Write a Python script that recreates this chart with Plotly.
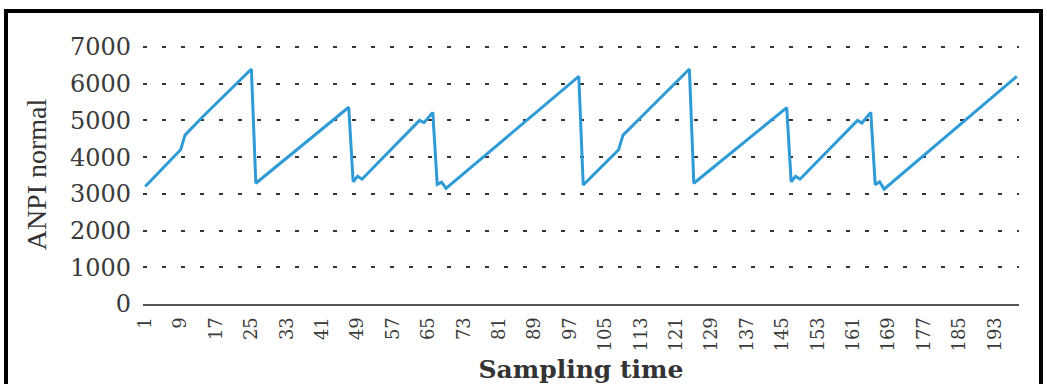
import plotly.graph_objects as go

# Turning points of the ANPI-normal trace (straight segments in between)
sampling_time = [1, 9, 10, 14, 25, 26, 47, 48, 49, 50, 63, 64, 66, 67, 68, 69, 99,
                 100, 108, 109, 113, 124, 125, 146, 147, 148, 149, 162, 163, 165,
                 166, 167, 168, 198]
anpi_normal = [3200, 4200, 4600, 5100, 6400, 3290, 5360, 3330, 3480, 3400, 5000,
               4940, 5220, 3260, 3320, 3150, 6200,
               3240, 4200, 4600, 5080, 6400, 3290, 5350, 3330, 3480, 3400, 5000,
               4930, 5220, 3250, 3330, 3130, 6200]

x_ticks = list(range(1, 194, 8))
y_ticks = list(range(0, 7001, 1000))

W, H = 1047, 384
ML, MR, MT, MB = 143, 28, 45, 80

fig = go.Figure()
fig.add_trace(go.Scatter(
    x=sampling_time, y=anpi_normal, mode="lines",
    line=dict(color="#2E9AD6", width=3),
    showlegend=False, hoverinfo="skip",
))

serif = "DejaVu Serif"
times = "Liberation Serif"
fig.update_layout(
    width=W, height=H,
    margin=dict(l=ML, r=MR, t=MT, b=MB, pad=0),
    paper_bgcolor="white", plot_bgcolor="white",
    xaxis=dict(
        range=[0.5, 198.5], automargin=False,
        tickmode="array", tickvals=x_ticks, ticktext=[str(v) for v in x_ticks],
        tickangle=-90,
        tickfont=dict(family=serif, size=18, color="#3a3a3a"),
        showgrid=False, zeroline=False,
        showline=True, linecolor="#555555", linewidth=2,
        ticks="", ticklabelstandoff=4,
        title=dict(text="<b>Sampling time</b>",
                   font=dict(family=serif, size=25, color="#333333"),
                   standoff=12),
    ),
    yaxis=dict(
        range=[0, 7055], automargin=False,
        tickmode="array", tickvals=y_ticks,
        tickfont=dict(family=serif, size=24, color="#3a3a3a"),
        showgrid=True, gridcolor="#333333", gridwidth=2, griddash="4px,15px",
        zeroline=False, showline=False, ticks="",
        ticklabelstandoff=11,
        title=dict(text="ANPI normal",
                   font=dict(family=times, size=28, color="#333333"),
                   standoff=15),
    ),
)

# Black frame around the figure panel
pw, ph = W - ML - MR, H - MT - MB
def px_x(p):
    return (p - ML) / pw
def px_y(p):
    return (H - MB - p) / ph

fig.add_shape(type="rect", xref="paper", yref="paper",
              x0=px_x(6), x1=px_x(1041), y0=px_y(392), y1=px_y(11),
              line=dict(color="black", width=4), fillcolor="rgba(0,0,0,0)",
              layer="above")

fig.write_html("out.html")
